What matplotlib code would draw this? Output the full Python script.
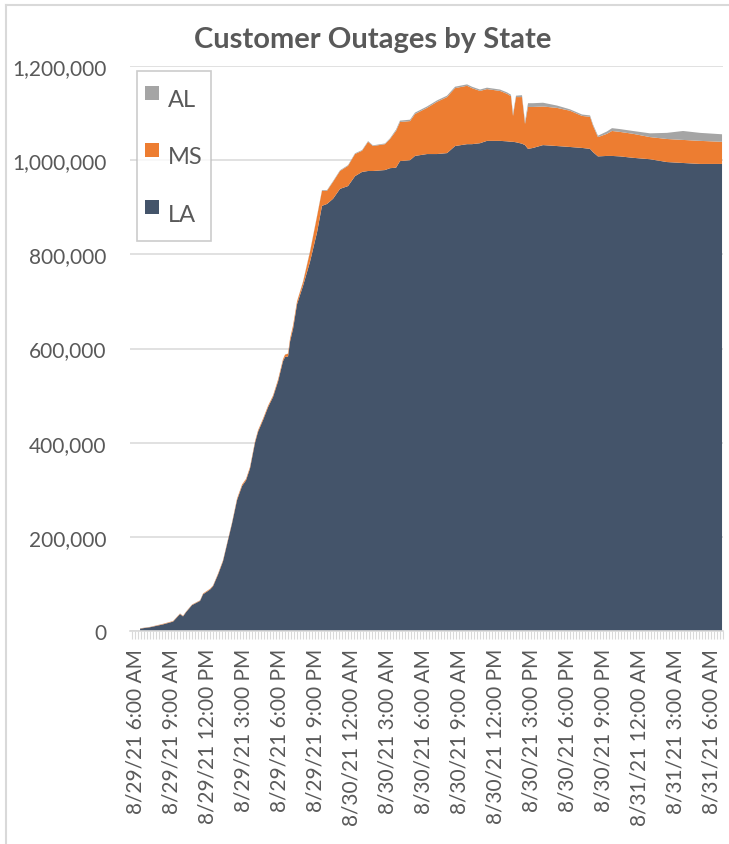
import matplotlib
matplotlib.use('Agg')
import matplotlib.pyplot as plt
from matplotlib.lines import Line2D
from matplotlib.ticker import FuncFormatter, MultipleLocator

plt.rcParams['font.family'] = ['Lato', 'DejaVu Sans']

# hours after 8/29/21 6:00 AM
hours = [0.42, 1.25, 2.33, 3.17, 3.75, 4.0, 4.25, 4.75, 5.42, 5.67,
         6.25, 6.5, 6.92, 7.33, 7.75, 8.08, 8.5, 8.92, 9.25, 9.58,
         10.0, 10.25, 10.67, 11.08, 11.5, 11.92, 12.33, 12.5, 12.75, 12.92,
         13.17, 13.5, 14.0, 14.58, 15.17, 15.58, 16.0, 16.5, 17.08, 17.75,
         18.33, 18.92, 19.42, 19.83, 20.83, 21.25, 21.75, 22.08, 22.92, 23.33,
         24.33, 25.17, 26.0, 26.67, 27.67, 28.08, 28.75, 29.33, 30.42, 31.0,
         31.33, 31.5, 31.75, 32.25, 32.5, 32.75, 33.17, 34.0, 35.17, 36.25,
         37.25, 37.92, 38.17, 38.58, 39.33, 39.75, 40.42, 41.5, 42.92, 44.33,
         45.67, 47.08, 48.92]

# customers out, thousands
la = [5, 8, 14, 20, 36, 31, 40, 55, 64, 78,
      88, 95, 120, 148, 193, 228, 278, 308, 320, 345,
      400, 423, 448, 475, 497, 530, 573, 582, 583, 615,
      642, 694, 733, 784, 847, 903, 907, 918, 939, 945,
      966, 975, 977, 977, 979, 983, 984, 998, 1000, 1009,
      1013, 1013, 1015, 1030, 1034, 1034, 1036, 1041, 1041, 1040,
      1039, 1039, 1038, 1035, 1032, 1024, 1026, 1032, 1030, 1028,
      1026, 1024, 1017, 1008, 1009, 1009, 1008, 1005, 1002, 996,
      994, 992, 992]
ms = [0.5, 0.5, 1, 1, 1, 1, 1, 1, 1, 1.5,
      1.5, 1.5, 2, 2, 2, 2, 3, 3, 3, 3,
      3, 3, 3, 3, 3, 4, 4, 5, 6, 6,
      7, 6, 8, 21, 34, 32, 28, 36, 38, 43,
      47, 45, 62, 53, 55, 62, 78, 83, 83, 89,
      98, 111, 119, 123, 124, 119, 111, 110, 106, 101,
      97, 55, 96, 99, 45, 89, 87, 82, 81, 77,
      68, 68, 56, 41, 47, 53, 52, 51, 47, 49,
      49, 49, 47]
al = [0.3, 0.3, 0.3, 0.3, 0.3, 0.3, 0.3, 0.3, 0.3, 0.3,
      0.3, 0.3, 0.3, 0.3, 0.3, 0.3, 0.3, 0.3, 0.3, 0.3,
      0.3, 0.3, 0.3, 0.3, 0.3, 0.3, 0.3, 0.3, 0.3, 0.3,
      0.3, 0.3, 1.5, 1.5, 1.5, 1.5, 1.5, 1.5, 1.5, 1.5,
      1.5, 1.5, 1.5, 1.5, 1.5, 1.5, 3, 3, 3, 3,
      3, 3, 3, 3, 3, 3, 3, 3, 3, 3,
      3, 5, 3, 4, 5, 8, 8, 8, 5, 3,
      3, 3, 3, 3, 5, 6, 6, 6, 8, 13,
      19, 17, 16]

tick_hours = list(range(0, 49, 3))
tick_labels = ['8/29/21 6:00 AM', '8/29/21 9:00 AM', '8/29/21 12:00 PM',
               '8/29/21 3:00 PM', '8/29/21 6:00 PM', '8/29/21 9:00 PM',
               '8/30/21 12:00 AM', '8/30/21 3:00 AM', '8/30/21 6:00 AM',
               '8/30/21 9:00 AM', '8/30/21 12:00 PM', '8/30/21 3:00 PM',
               '8/30/21 6:00 PM', '8/30/21 9:00 PM', '8/31/21 12:00 AM',
               '8/31/21 3:00 AM', '8/31/21 6:00 AM']

c_la = '#44546A'
c_ms = '#ED7D31'
c_al = '#A5A5A5'
grey = '#595959'
light = '#D9D9D9'

W, H = 729, 845
fig = plt.figure(figsize=(W / 100, H / 100), dpi=100)
ax = fig.add_axes([130 / W, 1 - 632 / H, 593 / W, 565 / H])

ax.stackplot(hours, [v * 1000 for v in la], [v * 1000 for v in ms],
             [v * 1000 for v in al], colors=[c_la, c_ms, c_al],
             linewidth=0, antialiased=True)

ax.set_xlim(-0.42, 49.0)
ax.set_ylim(0, 1200000)
ax.yaxis.set_major_locator(MultipleLocator(200000))
ax.yaxis.set_major_formatter(FuncFormatter(lambda v, p: f'{int(v):,}'))
ax.grid(axis='y', color=light, linewidth=1.1)
ax.set_axisbelow(True)

for s in ['left', 'right', 'top']:
    ax.spines[s].set_visible(False)
ax.spines['bottom'].set_color(light)
ax.spines['bottom'].set_linewidth(1.2)

ax.set_xticks(tick_hours)
ax.set_xticklabels(tick_labels, rotation=90)
ax.xaxis.set_minor_locator(MultipleLocator(0.25))
ax.tick_params(axis='x', which='both', length=6, color=light, width=0.8,
               labelsize=15, labelcolor=grey, pad=6)
ax.tick_params(axis='y', length=0, labelsize=15, labelcolor=grey, pad=17)

handles = [Line2D([], [], marker='s', linestyle='', markersize=10,
                  color=c, markeredgewidth=0) for c in (c_al, c_ms, c_la)]
leg = ax.legend(handles, ['AL', 'MS', 'LA'], loc='upper left',
                bbox_to_anchor=(7 / 593, (632 - 72) / 565), borderaxespad=0,
                fontsize=17, labelcolor=grey, frameon=True, fancybox=False,
                borderpad=0.35, handlelength=0.6, handleheight=2.19,
                labelspacing=0.75, handletextpad=0.35)
leg.get_frame().set_edgecolor('#BFBFBF')
leg.get_frame().set_linewidth(1.2)

fig.text(373 / W, 1 - 40 / H, 'Customer Outages by State', ha='center',
         va='center', fontsize=21, fontweight='bold', color=grey)

# chart area border (cropped at right and bottom)
fig.add_artist(Line2D([6 / W, 6 / W], [0, 1 - 6 / H], transform=fig.transFigure,
                      color=light, linewidth=1.5))
fig.add_artist(Line2D([6 / W, 1], [1 - 6 / H, 1 - 6 / H], transform=fig.transFigure,
                      color=light, linewidth=1.5))

fig.savefig('out.png', dpi=100)
